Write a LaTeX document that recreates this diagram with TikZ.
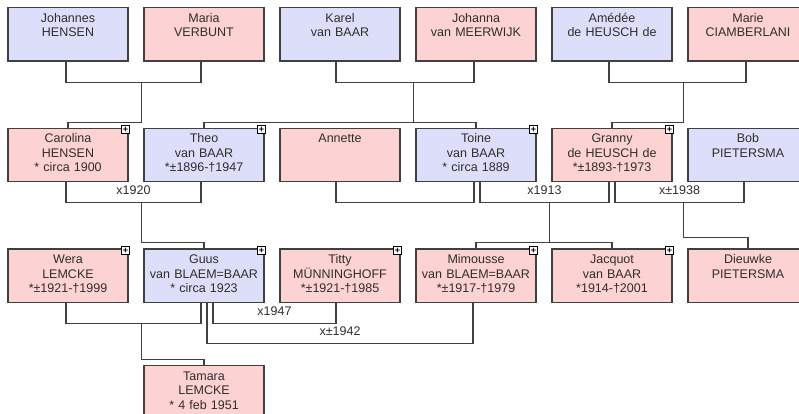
\documentclass[tikz,border=0pt]{standalone}
\usepackage{fontspec}
\setmainfont{Liberation Sans}
\usetikzlibrary{positioning}
\definecolor{pinkbox}{RGB}{252,210,210}
\definecolor{bluebox}{RGB}{221,222,250}
\definecolor{linegray}{RGB}{64,64,64}
\definecolor{textgray}{RGB}{50,45,45}
\begin{document}
\begin{tikzpicture}[
        node distance=66pt and 14.8pt,
        person/.style={draw=linegray, line width=1.2pt, fill=#1, anchor=north,
            minimum width=120pt, text width=114pt, align=center,
            inner xsep=3pt, inner ysep=3pt, text height=11.5pt, text depth=36pt,
            font=\fontsize{12.5}{14.5}\selectfont, text=textgray},
        man/.style={person=bluebox},
        woman/.style={person=pinkbox},
        more/.style={label={[plusbox]north east:+}},
        plusbox/.style={draw=black, fill=white, line width=0.8pt, minimum size=8pt,
            inner sep=0pt, anchor=center, xshift=-3pt, yshift=-2pt,
            font=\fontsize{9}{9}\selectfont\bfseries, text=black},
        year/.style={above=4pt, font=\fontsize{12.5}{15}\selectfont, text=textgray},
        link/.style={draw=linegray, line width=1.2pt}
    ]
    \useasboundingbox (0,0) rectangle (799pt,-414pt);

    % Grandparents
    \node[man] (johannes) at (68pt,-7pt) {Johannes\\HENSEN};
    \node[woman, right=of johannes] (maria) {Maria\\VERBUNT};
    \node[man, right=of maria] (karel) {Karel\\van BAAR};
    \node[woman, right=of karel] (johanna) {Johanna\\van MEERWIJK};
    \node[man, right=of johanna] (amedee) {Amédée\\de HEUSCH de};
    \node[woman, right=of amedee] (marie) {Marie\\CIAMBERLANI};

    % Parents
    \node[woman, more, below=of johannes] (carolina) {Carolina\\HENSEN\\{}* circa 1900};
    \node[man, more, below=of maria] (theo) {Theo\\van BAAR\\{}*±1896-†1947};
    \node[woman, below=of karel] (annette) {Annette};
    \node[man, more, below=of johanna] (toine) {Toine\\van BAAR\\{}* circa 1889};
    \node[woman, more, below=of amedee] (granny) {Granny\\de HEUSCH de\\{}*±1893-†1973};
    \node[man, below=of marie] (bob) {Bob\\PIETERSMA};

    % Children
    \node[woman, more, below=of carolina] (wera) {Wera\\LEMCKE\\{}*±1921-†1999};
    \node[man, more, below=of theo] (guus) {Guus\\van BLAEM=BAAR\\{}* circa 1923};
    \node[woman, more, below=of annette] (titty) {Titty\\MÜNNINGHOFF\\{}*±1921-†1985};
    \node[woman, more, below=of toine] (mimousse) {Mimousse\\van BLAEM=BAAR\\{}*±1917-†1979};
    \node[woman, more, below=of granny] (jacquot) {Jacquot\\van BAAR\\{}*1914-†2001};
    \node[woman, more, below=of bob] (dieuwke) {Dieuwke\\PIETERSMA};

    % Grandchild
    \node[woman, below=62pt of guus] (tamara) {Tamara\\LEMCKE\\{}* 4 feb 1951};

    % Couples of the first row
    \draw[link] ([xshift=-2pt]johannes.south) -- ++(0,-21pt) -| ([xshift=-3pt]maria.south);
    \draw[link] ([xshift=-4pt]karel.south) -- ++(0,-21pt) -| ([xshift=-2pt]johanna.south);
    \draw[link] ([xshift=-3pt]amedee.south) -- ++(0,-21pt) -| ([xshift=-2pt]marie.south);
    \coordinate (jm) at ([shift={(-2pt,-21pt)}]maria.south west);
    \coordinate (kj) at ([shift={(-2pt,-21pt)}]johanna.south west);
    \coordinate (am) at ([shift={(-4pt,-21pt)}]marie.south west);
    \draw[link] (jm) |- ([yshift=5pt]carolina.north) -- (carolina.north);
    \draw[link] (kj) |- ([yshift=5pt]theo.north) -- (theo.north);
    \draw[link] (kj) |- ([yshift=5pt]toine.north) -- (toine.north);
    \draw[link] (am) |- ([yshift=5pt]granny.north) -- (granny.north);

    % Couples of the second row
    \draw[link] ([xshift=-2pt]carolina.south) -- ++(0,-20pt)
        -| node[year, pos=0.25] {x1920} ([xshift=-3pt]theo.south);
    \draw[link] ([xshift=-4pt]annette.south) -- ++(0,-20pt) -| ([xshift=-2pt]toine.south);
    \draw[link] ([xshift=4pt]toine.south) -- ++(0,-20pt)
        -| node[year, pos=0.25] {x1913} ([xshift=-3pt]granny.south);
    \draw[link] ([xshift=3pt]granny.south) -- ++(0,-20pt)
        -| node[year, pos=0.25] {x±1938} ([xshift=-4pt]bob.south);
    \coordinate (ct) at ([shift={(-2pt,-20pt)}]theo.south west);
    \coordinate (tg) at ([shift={(-2pt,-20pt)}]granny.south west);
    \coordinate (gb) at ([shift={(-4pt,-20pt)}]bob.south west);
    \draw[link] (ct) |- ([yshift=6pt]guus.north) -- (guus.north);
    \draw[link] (tg) |- ([yshift=6pt]mimousse.north) -- (mimousse.north);
    \draw[link] (tg) |- ([yshift=6pt]jacquot.north) -- (jacquot.north);
    \draw[link] (gb) |- ([yshift=11pt]dieuwke.north) -- (dieuwke.north);

    % Couples of the third row
    \draw[link] ([xshift=-2pt]wera.south) -- ++(0,-20pt) -| ([xshift=-3pt]guus.south);
    \draw[link] ([xshift=9pt]guus.south) -- ++(0,-20pt)
        -| node[year, pos=0.25] {x1947} ([xshift=-4pt]titty.south);
    \draw[link] ([xshift=3pt]guus.south) -- ++(0,-40pt)
        -| node[year, pos=0.25] {x±1942} ([xshift=-3pt]mimousse.south);
    \coordinate (wg) at ([shift={(-2pt,-20pt)}]guus.south west);
    \draw[link] (wg) |- ([yshift=6pt]tamara.north) -- (tamara.north);
\end{tikzpicture}
\end{document}
